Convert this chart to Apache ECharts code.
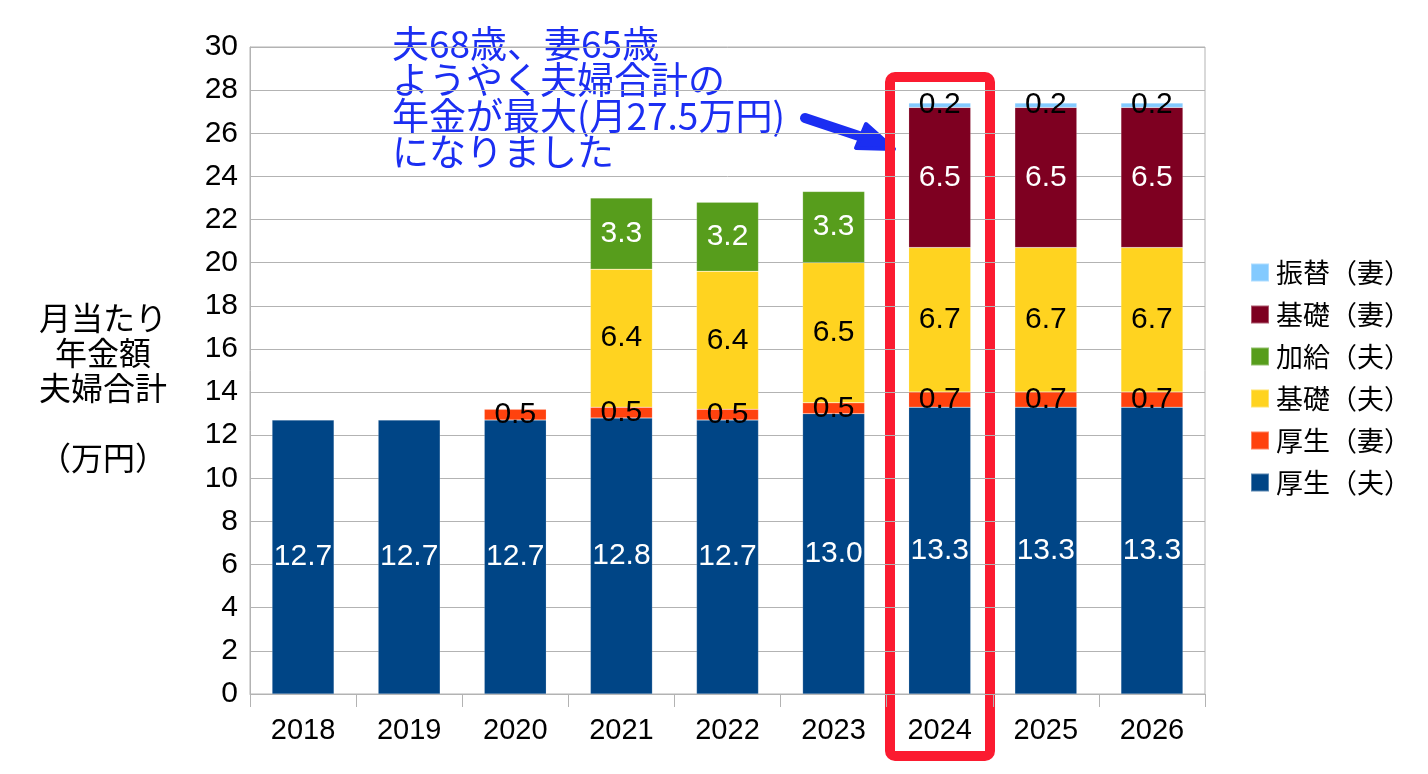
<!DOCTYPE html>
<html><head><meta charset="utf-8">
<script src="https://cdn.jsdelivr.net/npm/echarts@6/dist/echarts.min.js"></script>
<style>html,body{margin:0;padding:0;background:#fff}#c{width:1428px;height:774px}</style>
</head><body><div id="c"></div>
<script>
const years = ['2018','2019','2020','2021','2022','2023','2024','2025','2026'];
const kouseiOtto  = [12.7,12.7,12.7,12.8,12.7,13.0,13.3,13.3,13.3];
const kouseiTsuma = [null,null,0.5,0.5,0.5,0.5,0.7,0.7,0.7];
const kisoOtto    = [null,null,null,6.4,6.4,6.5,6.7,6.7,6.7];
const kakyuOtto   = [null,null,null,3.3,3.2,3.3,null,null,null];
const kisoTsuma   = [null,null,null,null,null,null,6.5,6.5,6.5];
const furikaeTsuma= [null,null,null,null,null,null,0.2,0.2,0.2];
const yTicks = [0,2,4,6,8,10,12,14,16,18,20,22,24,26,28,30];

const FONT = "'Liberation Sans','Noto Sans CJK JP',sans-serif";
const JP = "'Noto Sans CJK JP','Liberation Sans',sans-serif";
function mk(name, data, color, labelColor){
  return {name, type:'bar', stack:'t', data, barWidth:62,
    itemStyle:{color, borderColor:'rgba(255,255,255,0.35)', borderWidth:0.5},
    label:{show:true, position:'inside', color:labelColor, fontFamily:FONT, fontSize:30,
      formatter:p=>p.value==null?'':Number(p.value).toFixed(1)},
    emphasis:{disabled:true}};
}
const titleLines = ['月当たり','年金額','夫婦合計','','（万円）'];
const chart = echarts.init(document.getElementById('c'));
chart.setOption({
  animation:false,
  grid:{left:250,right:223,top:47,bottom:80,show:true,borderColor:'#b3b3b3',borderWidth:1},
  legend:{orient:'vertical',left:1245,top:254,itemWidth:18,itemHeight:18,itemGap:15,
    icon:'rect',
    data:['振替（妻）','基礎（妻）','加給（夫）','基礎（夫）','厚生（妻）','厚生（夫）'],
    textStyle:{fontFamily:JP,fontSize:27,color:'#000',padding:[0,0,0,2]}},
  xAxis:{type:'category',data:years,
    axisLine:{lineStyle:{color:'#b3b3b3'}},
    axisTick:{show:true,length:13,lineStyle:{color:'#b3b3b3'}},
    axisLabel:{color:'#000',fontFamily:FONT,fontSize:29,margin:22}},
  yAxis:{type:'value',min:0,max:30,interval:2,
    axisLine:{show:true,lineStyle:{color:'#b3b3b3'}},
    axisTick:{show:false},
    splitLine:{lineStyle:{color:'#b3b3b3'}},
    axisLabel:{color:'#000',fontFamily:FONT,fontSize:30,margin:12,
      formatter:v=>yTicks.includes(v)?String(v):''}},
  series:[
    mk('厚生（夫）',kouseiOtto,'#004586','#fff'),
    mk('厚生（妻）',kouseiTsuma,'#ff420e','#000'),
    mk('基礎（夫）',kisoOtto,'#ffd320','#000'),
    mk('加給（夫）',kakyuOtto,'#579d1c','#fff'),
    mk('基礎（妻）',kisoTsuma,'#7e0021','#fff'),
    mk('振替（妻）',furikaeTsuma,'#83caff','#000')
  ],
  graphic:[
    ...titleLines.map((t,i)=>({type:'text',style:{text:t,x:103,y:318+i*35,fontFamily:JP,fontSize:32,
      align:'center',verticalAlign:'middle',fill:'#000'}})),
    {type:'text',left:392,top:25,style:{text:'夫68歳、妻65歳\nようやく夫婦合計の\n年金が最大(月27.5万円)\nになりました',fontFamily:JP,fontSize:37,lineHeight:36,fill:'#1b2ef2'}},
    {type:'polyline',shape:{points:[[805,118],[880,143]]},style:{stroke:'#1b2ef2',lineWidth:10,lineCap:'round',fill:null}},
    {type:'polygon',shape:{points:[[894,149],[866,124],[856,148]]},style:{fill:'#1b2ef2',stroke:'#1b2ef2',lineWidth:4,lineJoin:'round'}},
    {type:'rect',shape:{x:890,y:77,width:100,height:679,r:5},style:{fill:null,stroke:'#fb1b30',lineWidth:10}}
  ]
});
</script></body></html>
